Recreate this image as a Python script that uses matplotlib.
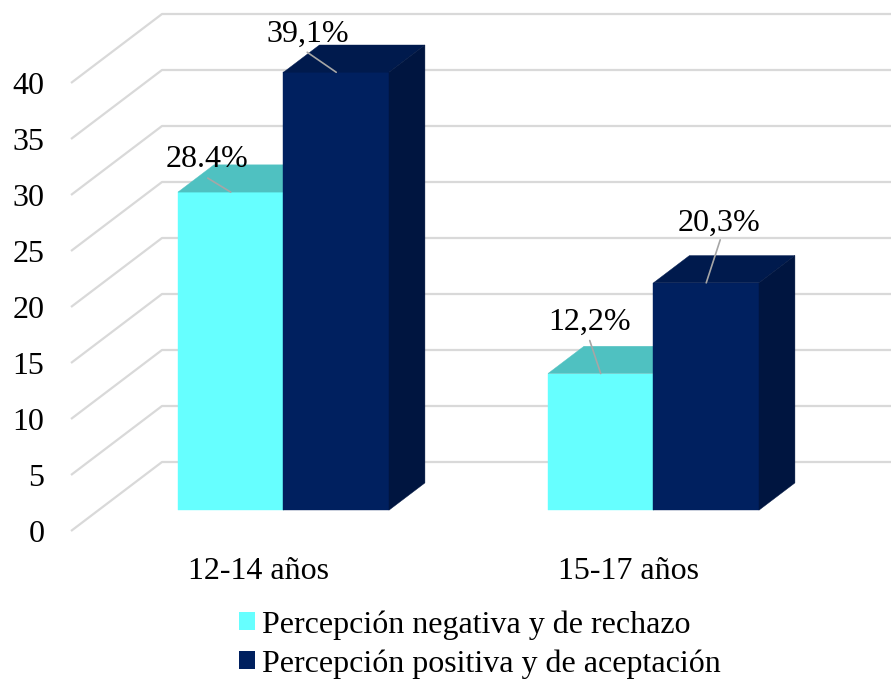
import matplotlib
matplotlib.use("Agg")
import matplotlib.pyplot as plt
from matplotlib.patches import Polygon, Patch

plt.rcParams['font.family'] = ['Liberation Serif', 'DejaVu Serif']

categories = ['12-14 años', '15-17 años']
series_names = ['Percepción negativa y de rechazo', 'Percepción positiva y de aceptación']
negative = [28.4, 12.2]
positive = [39.1, 20.3]
negative_labels = ['28.4%', '12,2%']
positive_labels = ['39,1%', '20,3%']
y_ticks = [0, 5, 10, 15, 20, 25, 30, 35, 40]

W, H = 891, 679
PX_X0, PX_Y0 = 71, 531      # front-left floor corner in pixels
PX_PER_CAT = 370
PX_PER_VAL = 11.2
DEPTH_DX, DEPTH_DY = 91, 69  # pixel shift of full chart depth
BAR_LIFT = 1.5 / PX_PER_VAL
FS = 23

fig = plt.figure(figsize=(W / 100, H / 100), dpi=100)
ax = fig.add_axes([PX_X0 / W, (H - PX_Y0) / H, (W - PX_X0) / W, (PX_Y0 - 13) / H])
ax.set_xlim(-187 / PX_PER_CAT, (W - PX_X0 - 187) / PX_PER_CAT)
ax.set_ylim(0, (PX_Y0 - 13) / PX_PER_VAL)
for s in ax.spines.values():
    s.set_visible(False)
ax.patch.set_visible(False)


def proj(x, v, d):
    """Oblique projection: category x, value v, depth d (0 front .. 1 back)."""
    return (x + d * DEPTH_DX / PX_PER_CAT, v + d * DEPTH_DY / PX_PER_VAL)


ax.set_yticks(y_ticks)
ax.set_yticklabels([str(t) for t in y_ticks], fontsize=FS)
ax.set_xticks(range(len(categories)))
ax.set_xticklabels(categories, fontsize=FS)
ax.tick_params(axis='y', length=0, pad=19)
ax.tick_params(axis='x', length=0, pad=18.4)

# Gridlines: side wall + back wall
x_left, x_right = ax.get_xlim()
for t in y_ticks:
    pts = [proj(x_left, t, 0), proj(x_left, t, 1), proj(x_right - DEPTH_DX / PX_PER_CAT, t, 1)]
    ax.plot(*zip(*pts), color='#D9D9D9', lw=1.6, clip_on=False, zorder=1, solid_capstyle='butt')

BAR_W = 105.5 / PX_PER_CAT
D0, D1 = 0.28, 0.675


def bar3d(x0, x1, v, front, top, side, zorder):
    b = BAR_LIFT
    boxes = [
        ([proj(x0, b, D0), proj(x1, b, D0), proj(x1, v + b, D0), proj(x0, v + b, D0)], front),
        ([proj(x0, v + b, D0), proj(x1, v + b, D0), proj(x1, v + b, D1), proj(x0, v + b, D1)], top),
        ([proj(x1, b, D0), proj(x1, b, D1), proj(x1, v + b, D1), proj(x1, v + b, D0)], side),
    ]
    for pts, col in boxes:
        ax.add_patch(Polygon(pts, closed=True, facecolor=col, edgecolor=col, lw=0.3,
                             clip_on=False, zorder=zorder))


CYAN, CYAN_TOP, CYAN_SIDE = '#66FFFF', '#4FC1C1', '#3FA5A5'
NAVY, NAVY_TOP, NAVY_SIDE = '#00205F', '#001A4D', '#001540'

callouts = []
for i in range(len(categories)):
    bar3d(i - BAR_W, i, negative[i], CYAN, CYAN_TOP, CYAN_SIDE, 3)
    bar3d(i, i + BAR_W, positive[i], NAVY, NAVY_TOP, NAVY_SIDE, 4)
    callouts.append((proj(i - BAR_W / 2, negative[i] + BAR_LIFT, D0), negative_labels[i]))
    callouts.append((proj(i + BAR_W / 2, positive[i] + BAR_LIFT, D0), positive_labels[i]))

# pixel offsets (label centre, leader start) from the bar top, in callout order
offsets = [((-24, 33), (-23, 14)), ((-28, 38), (-29, 20)), ((-11, 51), (-11, 33)), ((13, 59), (14, 43))]
for (xy, label), (txt, line) in zip(callouts, offsets):
    ax.annotate('', xy=xy, xytext=line, textcoords='offset pixels', annotation_clip=False, zorder=6,
                arrowprops=dict(arrowstyle='-', color='#A6A6A6', lw=1.2, shrinkA=0, shrinkB=0))
    ax.annotate(label, xy=xy, xytext=txt, textcoords='offset pixels', ha='center', va='center',
                fontsize=FS, color='black', annotation_clip=False, zorder=7)

handles = [Patch(facecolor=CYAN, edgecolor='none'), Patch(facecolor=NAVY, edgecolor='none')]
fig.legend(handles, series_names, loc='upper left', bbox_to_anchor=(239 / W, 1 - 610 / H),
           frameon=False, fontsize=FS, borderpad=0, borderaxespad=0, handlelength=0.5,
           handleheight=0.5, handletextpad=0.22, labelspacing=0.3)

fig.savefig('out.png', dpi=100)
